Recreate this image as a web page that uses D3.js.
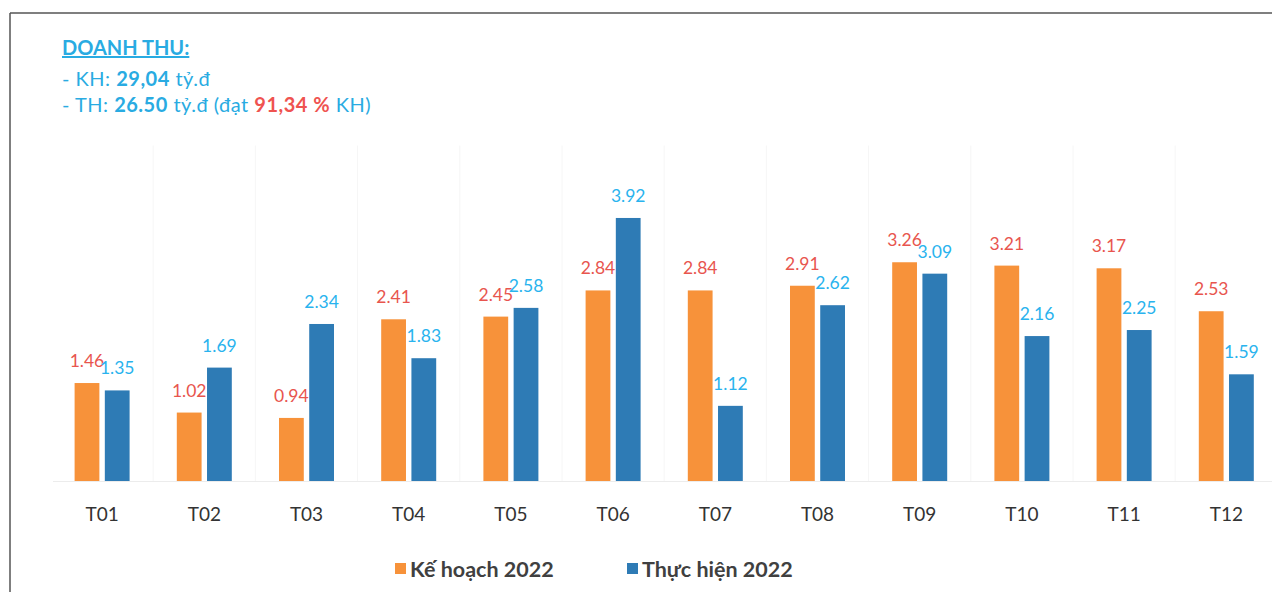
<!DOCTYPE html>
<html><head><meta charset="utf-8">
<script src="https://cdn.jsdelivr.net/npm/d3@7"></script>
<style>
html,body{margin:0;padding:0;background:#fff;}
svg{display:block;font-family:Lato,"Open Sans",sans-serif;}
</style></head>
<body>
<svg id="c" width="1272" height="592"></svg>
<script>
const months = ["T01","T02","T03","T04","T05","T06","T07","T08","T09","T10","T11","T12"];
const series = ["Kế hoạch 2022","Thực hiện 2022"];
const keHoach = [1.46,1.02,0.94,2.41,2.45,2.84,2.84,2.91,3.26,3.21,3.17,2.53];
const thucHien = [1.35,1.69,2.34,1.83,2.58,3.92,1.12,2.62,3.09,2.16,2.25,1.59];
const colors = ["#f7923a","#2e7bb5"];
const labelColors = ["#e8554e","#29b3ee"];

const svg = d3.select("#c");

// frame
svg.append("line").attr("x1",10).attr("x2",1272).attr("y1",13).attr("y2",13).attr("stroke","#555").attr("stroke-width",1.5);
svg.append("line").attr("x1",10).attr("x2",10).attr("y1",13).attr("y2",592).attr("stroke","#555").attr("stroke-width",1.5);

const x0 = d3.scaleBand().domain(months).range([51, 1277.4]).padding(0);
const x1 = d3.scaleBand().domain(series).range([23.6, 78.6]).paddingInner(0.18);
const y = d3.scaleLinear().domain([0,5]).range([481, 145.5]);

// vertical faint gridlines
const g = svg.append("g");
g.selectAll("line.v").data(months.slice(1)).join("line")
  .attr("x1",d=>x0(d)).attr("x2",d=>x0(d)).attr("y1",y(5)).attr("y2",y(0))
  .attr("stroke","#f6f6f6").attr("stroke-width",1);
// baseline
g.append("line").attr("x1",53).attr("x2",1272).attr("y1",y(0)+0.5).attr("y2",y(0)+0.5).attr("stroke","#ececec");

const data = months.map((m,i)=>({m, vals:[keHoach[i], thucHien[i]]}));
const grp = svg.append("g").selectAll("g").data(data).join("g")
  .attr("transform",d=>`translate(${x0(d.m)},0)`);
grp.selectAll("rect").data(d=>d.vals.map((v,k)=>({k,v}))).join("rect")
  .attr("x",d=>x1(series[d.k])).attr("width",x1.bandwidth())
  .attr("y",d=>y(d.v)).attr("height",d=>y(0)-y(d.v))
  .attr("fill",d=>colors[d.k]);
grp.selectAll("text").data(d=>d.vals.map((v,k)=>({k,v}))).join("text")
  .attr("x",d=>x1(series[d.k])+x1.bandwidth()/2).attr("y",d=>y(d.v)-16)
  .attr("text-anchor","middle").attr("font-size",17.5)
  .attr("fill",d=>labelColors[d.k]).text(d=>d.v.toFixed(2));

// x axis labels
const xa = svg.append("g").attr("transform",`translate(0,${y(0)})`)
  .call(d3.axisBottom(x0).tickSize(0).tickPadding(27));
xa.select(".domain").remove();
xa.selectAll("text").attr("font-size",19).attr("fill","#333").attr("font-family","Lato,sans-serif");

// title block
const t = svg.append("g").attr("fill","#29abe2").attr("font-size",20).attr("letter-spacing",0.5);
t.append("text").attr("x",62).attr("y",55).attr("font-weight","bold").attr("letter-spacing",0).attr("text-decoration","underline").text("DOANH THU:");
const l1 = t.append("text").attr("x",62).attr("y",86);
l1.append("tspan").text(" - KH: ");
l1.append("tspan").attr("font-weight","bold").text("29,04");
l1.append("tspan").text(" tỷ.đ");
const l2 = t.append("text").attr("x",62).attr("y",112);
l2.append("tspan").text(" - TH: ");
l2.append("tspan").attr("font-weight","bold").text("26.50");
l2.append("tspan").text(" tỷ.đ (đạt ");
l2.append("tspan").attr("font-weight","bold").attr("fill","#ef5350").text("91,34 %");
l2.append("tspan").text(" KH)");

// legend
const legX = [395, 627];
const lg = svg.append("g").selectAll("g").data(series).join("g")
  .attr("transform",(d,i)=>`translate(${legX[i]},0)`);
lg.append("rect").attr("x",0).attr("y",563).attr("width",11).attr("height",11).attr("fill",(d,i)=>colors[i]);
lg.append("text").attr("x",15).attr("y",577).attr("font-size",21.5).attr("font-weight","bold").attr("fill","#404040").text(d=>d);
</script>
</body></html>
